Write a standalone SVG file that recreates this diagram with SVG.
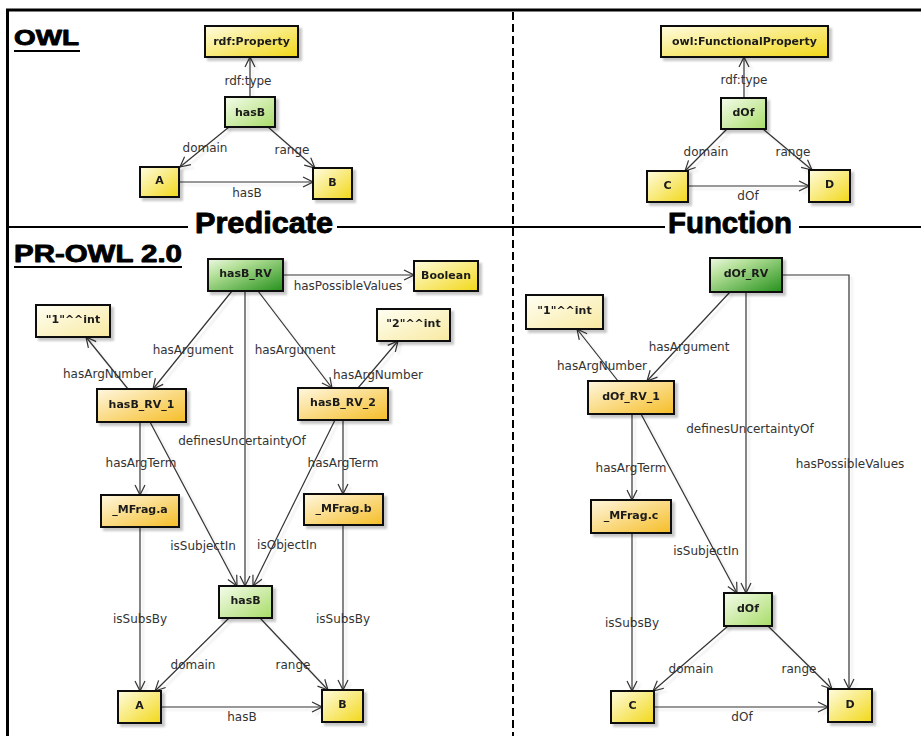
<svg xmlns="http://www.w3.org/2000/svg" width="921" height="736" viewBox="0 0 921 736">
<defs>
<style>
.n rect{stroke:#111;stroke-width:2}
.n text{font-family:"DejaVu Sans",sans-serif;font-weight:bold;font-size:11px;fill:#1a1a1a;text-anchor:middle}
.e{fill:none;stroke:#333;stroke-width:1.2;marker-end:url(#arr)}
.lb text{font-family:"DejaVu Sans",sans-serif;font-size:12px;fill:#333;text-anchor:middle}
.ttl{font-family:"Liberation Sans",Arial,sans-serif;font-weight:bold;fill:#000;stroke:#000;stroke-width:0.9;stroke-linejoin:round}
.frame{stroke:#000;fill:none}
</style>
<linearGradient id="gY" x1="0" y1="0" x2="1" y2="1"><stop offset="0" stop-color="#fffce0"/><stop offset="1" stop-color="#f2d818"/></linearGradient>
<linearGradient id="gL" x1="0" y1="0" x2="1" y2="1"><stop offset="0" stop-color="#fffff4"/><stop offset="1" stop-color="#f8e9a0"/></linearGradient>
<linearGradient id="gO" x1="0" y1="0" x2="1" y2="1"><stop offset="0" stop-color="#fff7e0"/><stop offset="1" stop-color="#f5bd26"/></linearGradient>
<linearGradient id="gG" x1="0" y1="0" x2="1" y2="1"><stop offset="0" stop-color="#f5fcec"/><stop offset="1" stop-color="#a8dc68"/></linearGradient>
<linearGradient id="gD" x1="0" y1="0" x2="1" y2="1"><stop offset="0" stop-color="#edf8e4"/><stop offset="0.3" stop-color="#b4e098"/><stop offset="1" stop-color="#24901a"/></linearGradient>
<filter id="sh" x="-20%" y="-20%" width="150%" height="160%"><feDropShadow dx="3" dy="3" stdDeviation="1.3" flood-color="#000" flood-opacity="0.22"/></filter>
<filter id="esh" x="-10%" y="-10%" width="120%" height="120%"><feDropShadow dx="3" dy="3" stdDeviation="0.8" flood-color="#000" flood-opacity="0.1"/></filter>
<marker id="arr" viewBox="0 0 12 12" refX="11" refY="6" markerWidth="12" markerHeight="12" markerUnits="userSpaceOnUse" orient="auto"><path d="M1,1 L11,6 L1,11" fill="none" stroke="#333" stroke-width="1.2"/></marker>
</defs>
<rect width="921" height="736" fill="#fff"/>

<g id="frame">
<line class="frame" x1="6" y1="10" x2="921" y2="10" stroke-width="3"/>
<line class="frame" x1="7.5" y1="9" x2="7.5" y2="736" stroke-width="3"/>
<line class="frame" x1="513" y1="12" x2="513" y2="736" stroke-width="2" stroke-dasharray="8,4"/>
<line class="frame" x1="7" y1="227" x2="188" y2="227" stroke-width="2"/>
<line class="frame" x1="337" y1="227" x2="665" y2="227" stroke-width="2"/>
<line class="frame" x1="799" y1="227" x2="921" y2="227" stroke-width="2"/>
<text class="ttl" x="14" y="45" font-size="22" textLength="65" lengthAdjust="spacingAndGlyphs">OWL</text>
<line class="frame" x1="14" y1="51" x2="80" y2="51" stroke-width="2"/>
<text class="ttl" x="14" y="262" font-size="24" textLength="168" lengthAdjust="spacingAndGlyphs">PR-OWL 2.0</text>
<line class="frame" x1="14" y1="267" x2="182" y2="267" stroke-width="2"/>
<text class="ttl" x="195" y="233" font-size="29" textLength="138" lengthAdjust="spacingAndGlyphs">Predicate</text>
<text class="ttl" x="668" y="233" font-size="29" textLength="124" lengthAdjust="spacingAndGlyphs">Function</text>
</g>

<g id="connectors">
<g filter="url(#esh)">
<path class="e" d="M250,97 L250,57"/>
<path class="e" d="M229,127 L180,167"/>
<path class="e" d="M268,127 L315,168"/>
<path class="e" d="M179,182 L313,182"/>
<path class="e" d="M744,98 L744,57"/>
<path class="e" d="M727,129 L685,171"/>
<path class="e" d="M763,129 L812,170"/>
<path class="e" d="M688,186 L809,186"/>
<path class="e" d="M283,275 L414,275"/>
<path class="e" d="M232,291 L153,389"/>
<path class="e" d="M258,291 L332,388"/>
<path class="e" d="M245,291 L245,586"/>
<path class="e" d="M128,389 L86,337"/>
<path class="e" d="M358,388 L398,341"/>
<path class="e" d="M140,422 L140,495"/>
<path class="e" d="M150,422 L237,586"/>
<path class="e" d="M343,420 L343,494"/>
<path class="e" d="M335,420 L253,586"/>
<path class="e" d="M140,527 L140,691"/>
<path class="e" d="M343,525 L343,690"/>
<path class="e" d="M229,618 L155,691"/>
<path class="e" d="M260,618 L328,690"/>
<path class="e" d="M161,707 L322,707"/>
<path class="e" d="M782,275 L849,275 L849,689"/>
<path class="e" d="M730,292 L647,381"/>
<path class="e" d="M746,292 L746,593"/>
<path class="e" d="M618,381 L577,329"/>
<path class="e" d="M632,414 L632,500"/>
<path class="e" d="M641,414 L737,593"/>
<path class="e" d="M632,533 L632,691"/>
<path class="e" d="M728,626 L653,691"/>
<path class="e" d="M768,626 L832,689"/>
<path class="e" d="M654,707 L828,707"/>
</g>
<g class="lb">
<text x="248" y="85">rdf:type</text>
<text x="205" y="152">domain</text>
<text x="292" y="154">range</text>
<text x="247" y="197">hasB</text>
<text x="744" y="84">rdf:type</text>
<text x="706" y="156">domain</text>
<text x="793" y="156">range</text>
<text x="748" y="200">dOf</text>
<text x="348" y="290">hasPossibleValues</text>
<text x="193" y="354">hasArgument</text>
<text x="295" y="354">hasArgument</text>
<text x="242" y="445">definesUncertaintyOf</text>
<text x="108" y="378">hasArgNumber</text>
<text x="378" y="379">hasArgNumber</text>
<text x="141" y="467">hasArgTerm</text>
<text x="203" y="550">isSubjectIn</text>
<text x="343" y="467">hasArgTerm</text>
<text x="287" y="549">isObjectIn</text>
<text x="140" y="623">isSubsBy</text>
<text x="343" y="623">isSubsBy</text>
<text x="193" y="669">domain</text>
<text x="293" y="669">range</text>
<text x="242" y="721">hasB</text>
<text x="850" y="468">hasPossibleValues</text>
<text x="689" y="351">hasArgument</text>
<text x="750" y="433">definesUncertaintyOf</text>
<text x="602" y="370">hasArgNumber</text>
<text x="631" y="472">hasArgTerm</text>
<text x="706" y="555">isSubjectIn</text>
<text x="632" y="627">isSubsBy</text>
<text x="691" y="673">domain</text>
<text x="799" y="673">range</text>
<text x="742" y="721">dOf</text>
</g>
</g>

<g id="n-rdfProperty" class="n" filter="url(#sh)"><rect x="205" y="26" width="93" height="31" fill="url(#gY)"/><text x="251.5" y="45">rdf:Property</text></g>
<g id="n-hasB-owl" class="n" filter="url(#sh)"><rect x="225" y="97" width="50" height="30" fill="url(#gG)"/><text x="250" y="116">hasB</text></g>
<g id="n-A-owl" class="n" filter="url(#sh)"><rect x="140" y="167" width="39" height="30" fill="url(#gY)"/><text x="159.5" y="184">A</text></g>
<g id="n-B-owl" class="n" filter="url(#sh)"><rect x="313" y="168" width="39" height="31" fill="url(#gY)"/><text x="332.5" y="186">B</text></g>

<g id="n-owlFP" class="n" filter="url(#sh)"><rect x="661" y="26" width="167" height="31" fill="url(#gY)"/><text x="744.5" y="45">owl:FunctionalProperty</text></g>
<g id="n-dOf-owl" class="n" filter="url(#sh)"><rect x="721" y="98" width="45" height="31" fill="url(#gG)"/><text x="743.5" y="116">dOf</text></g>
<g id="n-C-owl" class="n" filter="url(#sh)"><rect x="647" y="171" width="41" height="31" fill="url(#gY)"/><text x="667.5" y="189">C</text></g>
<g id="n-D-owl" class="n" filter="url(#sh)"><rect x="809" y="170" width="41" height="32" fill="url(#gY)"/><text x="829.5" y="188">D</text></g>

<g id="n-hasB_RV" class="n" filter="url(#sh)"><rect x="208" y="259" width="75" height="32" fill="url(#gD)"/><text x="245.5" y="277">hasB_RV</text></g>
<g id="n-Boolean" class="n" filter="url(#sh)"><rect x="414" y="261" width="64" height="30" fill="url(#gY)"/><text x="446" y="279">Boolean</text></g>
<g id="n-1int-p" class="n" filter="url(#sh)"><rect x="36" y="305" width="74" height="32" fill="url(#gL)"/><text x="73" y="323">"1"^^int</text></g>
<g id="n-2int-p" class="n" filter="url(#sh)"><rect x="377" y="309" width="73" height="32" fill="url(#gL)"/><text x="413.5" y="327">"2"^^int</text></g>
<g id="n-hasB_RV_1" class="n" filter="url(#sh)"><rect x="97" y="389" width="89" height="33" fill="url(#gO)"/><text x="141.5" y="408">hasB_RV_1</text></g>
<g id="n-hasB_RV_2" class="n" filter="url(#sh)"><rect x="298" y="388" width="90" height="32" fill="url(#gO)"/><text x="343" y="406">hasB_RV_2</text></g>
<g id="n-MFrag-a" class="n" filter="url(#sh)"><rect x="101" y="495" width="78" height="32" fill="url(#gO)"/><text x="140" y="513">_MFrag.a</text></g>
<g id="n-MFrag-b" class="n" filter="url(#sh)"><rect x="304" y="494" width="79" height="31" fill="url(#gO)"/><text x="343.5" y="512">_MFrag.b</text></g>
<g id="n-hasB-pr" class="n" filter="url(#sh)"><rect x="219" y="586" width="53" height="32" fill="url(#gG)"/><text x="245.5" y="604">hasB</text></g>
<g id="n-A-pr" class="n" filter="url(#sh)"><rect x="118" y="691" width="43" height="32" fill="url(#gY)"/><text x="139.5" y="709">A</text></g>
<g id="n-B-pr" class="n" filter="url(#sh)"><rect x="322" y="690" width="41" height="32" fill="url(#gY)"/><text x="342.5" y="708">B</text></g>

<g id="n-dOf_RV" class="n" filter="url(#sh)"><rect x="710" y="258" width="72" height="34" fill="url(#gD)"/><text x="746" y="277">dOf_RV</text></g>
<g id="n-1int-f" class="n" filter="url(#sh)"><rect x="526" y="295" width="77" height="34" fill="url(#gL)"/><text x="564.5" y="314">"1"^^int</text></g>
<g id="n-dOf_RV_1" class="n" filter="url(#sh)"><rect x="588" y="381" width="86" height="33" fill="url(#gO)"/><text x="631" y="400">dOf_RV_1</text></g>
<g id="n-MFrag-c" class="n" filter="url(#sh)"><rect x="591" y="500" width="80" height="33" fill="url(#gO)"/><text x="631" y="519">_MFrag.c</text></g>
<g id="n-dOf-pr" class="n" filter="url(#sh)"><rect x="724" y="593" width="48" height="33" fill="url(#gG)"/><text x="748" y="612">dOf</text></g>
<g id="n-C-pr" class="n" filter="url(#sh)"><rect x="611" y="691" width="43" height="32" fill="url(#gY)"/><text x="632.5" y="709">C</text></g>
<g id="n-D-pr" class="n" filter="url(#sh)"><rect x="828" y="689" width="44" height="33" fill="url(#gY)"/><text x="850" y="708">D</text></g>
</svg>
